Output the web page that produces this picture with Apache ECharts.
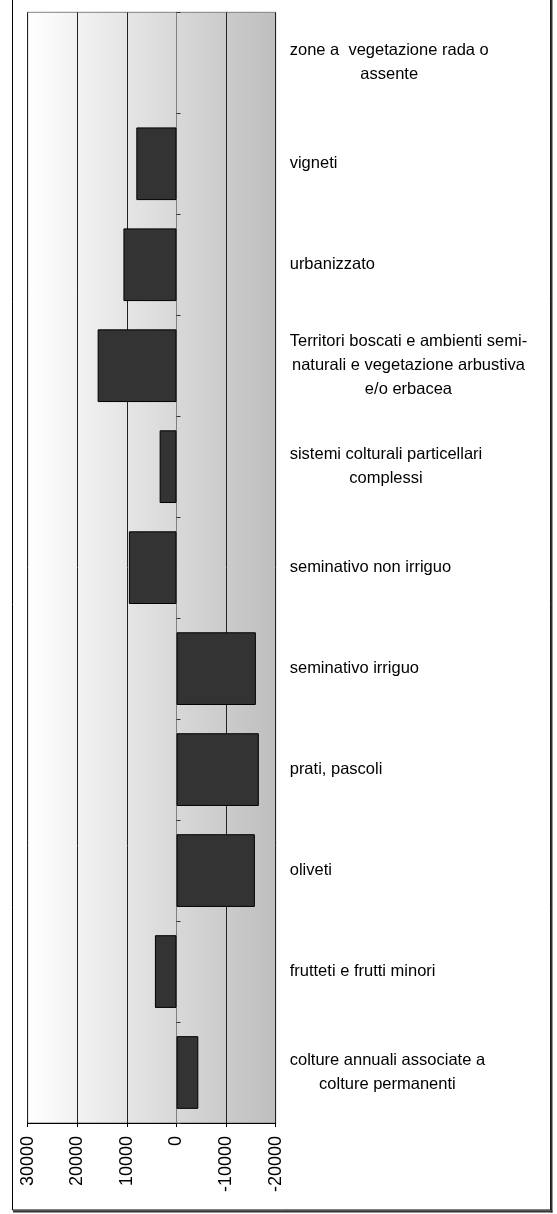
<!DOCTYPE html>
<html lang="it">
<head>
  <meta charset="UTF-8">
  <title>Variazioni uso del suolo</title>
  <script src="https://cdn.jsdelivr.net/npm/echarts@6/dist/echarts.min.js"></script>
  <style>
    html, body { margin: 0; padding: 0; background: #fff; }
    #chart { width: 557px; height: 1214px; }
  </style>
</head>
<body>
  <div id="chart"></div>
  <script>
    // categorie dal basso verso l'alto (ordine dell'asse categoria)
    const categories = [
      'colture annuali associate a\ncolture permanenti',
      'frutteti e frutti minori',
      'oliveti',
      'prati, pascoli',
      'seminativo irriguo',
      'seminativo non irriguo',
      'sistemi colturali particellari\ncomplessi',
      'Territori boscati e ambienti semi-\nnaturali e vegetazione arbustiva\ne/o erbacea',
      'urbanizzato',
      'vigneti',
      'zone a  vegetazione rada o\nassente'
    ];
    // null = nessuna barra visibile
    const values = [-4400, 4350, -15800, -16600, -16000, 9600, 3400, 15900, 10700, 8100, null];

    const valueMin = -20000;
    const valueMax = 30000;
    const valueStep = 10000;

    const font = "'Liberation Sans', Arial, sans-serif";

    const chart = echarts.init(document.getElementById('chart'));
    chart.setOption({
      animation: false,
      backgroundColor: '#ffffff',
      grid: {
        left: 27.7,
        right: 281.3,
        top: 12.3,
        bottom: 91,
        show: true,
        borderColor: '#808080',
        borderWidth: 1,
        backgroundColor: {
          type: 'linear', x: 0, y: 0, x2: 1, y2: 0,
          colorStops: [
            { offset: 0, color: '#ffffff' },
            { offset: 1, color: '#bebebe' }
          ]
        }
      },
      xAxis: {
        type: 'value',
        inverse: true,
        min: valueMin,
        max: valueMax,
        interval: valueStep,
        axisLine: { show: true, onZero: false, lineStyle: { color: '#000', width: 1 } },
        axisTick: { show: true, length: 4, lineStyle: { color: '#000' } },
        axisLabel: {
          rotate: 90,
          margin: 13,
          fontFamily: font,
          fontSize: 18,
          color: '#000',
          formatter: v => String(v)
        },
        splitLine: { show: true, lineStyle: { color: '#222', width: 1 } }
      },
      yAxis: [
        {
          type: 'category',
          data: categories,
          position: 'left',
          axisLine: { show: true, onZero: true, lineStyle: { color: '#808080', width: 1 } },
          axisTick: { show: true, inside: true, length: 4, lineStyle: { color: '#333' } },
          axisLabel: { show: false },
          splitLine: { show: false }
        },
        {
          type: 'category',
          data: categories,
          position: 'right',
          axisLine: { show: false },
          axisTick: { show: false },
          splitLine: { show: false },
          axisLabel: {
            interval: 0,
            margin: 14,
            align: 'left',
            color: '#000',
            fontFamily: font,
            fontSize: 16.5,
            lineHeight: 24,
            formatter: v => v.split('\n').map(l => '{c|' + l + '}').join('\n'),
            rich: {
              c: {
                align: 'center',
                fontFamily: font,
                fontSize: 16.5,
                lineHeight: 24,
                color: '#000'
              }
            }
          }
        }
      ],
      series: [
        {
          type: 'bar',
          yAxisIndex: 0,
          data: values,
          barCategoryGap: '28%',
          itemStyle: { color: '#333333', borderColor: '#000', borderWidth: 1 }
        }
      ],
      graphic: [
        {
          type: 'rect',
          shape: { x: 12.5, y: -10, width: 538, height: 1220 },
          style: { fill: 'none', stroke: '#000', lineWidth: 1 },
          silent: true
        },
        {
          type: 'line',
          shape: { x1: 551.5, y1: -10, x2: 551.5, y2: 1212.5 },
          style: { stroke: '#333', lineWidth: 2 },
          silent: true
        },
        {
          type: 'line',
          shape: { x1: 13, y1: 1211.5, x2: 552.5, y2: 1211.5 },
          style: { stroke: '#333', lineWidth: 2 },
          silent: true
        }
      ]
    });
  </script>
</body>
</html>
